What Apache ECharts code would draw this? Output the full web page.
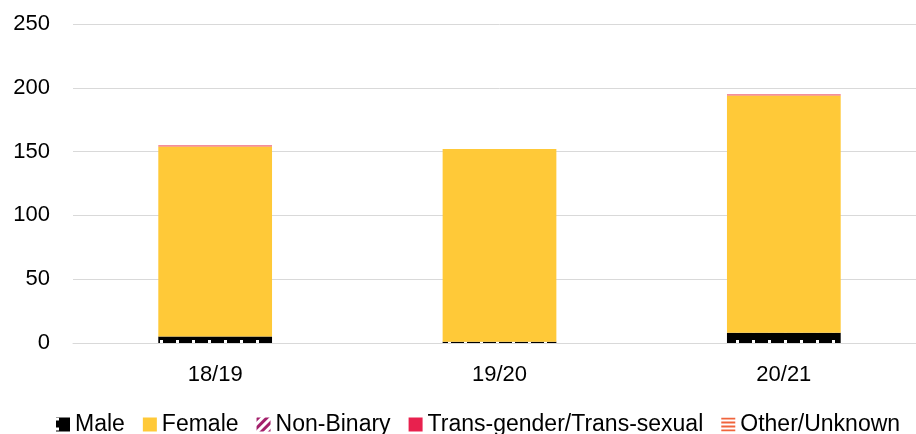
<!DOCTYPE html>
<html>
    <head>
        <title>Gender by year</title>
        <meta charset="UTF-8">
        <script type="text/javascript" src="https://cdn.jsdelivr.net/npm/echarts@6/dist/echarts.min.js"></script>
        <style>
            html, body { margin: 0; padding: 0; background: #fff; overflow: hidden; }
            #container { width: 926px; height: 434px; }
        </style>
    </head>
    <body>
        <div id="container"></div>
        <script type="text/javascript">
            var years = ['18/19', '19/20', '20/21'];
            var male = [5, 1, 8];
            var female = [149, 151, 186];
            var nonBinary = [0, 0, 0];
            var trans = [0, 0, 0];
            var other = [1, 0, 1];
            var yTicks = [0, 50, 100, 150, 200, 250];

            var font = "'Liberation Sans', Arial, sans-serif";
            var myChart = echarts.init(document.getElementById('container'));

            function bar(name, data, color, decal) {
                var s = {
                    name: name,
                    type: 'bar',
                    stack: 'all',
                    barCategoryGap: '60%',
                    data: data,
                    itemStyle: {color: color}
                };
                if (decal) {
                    s.itemStyle.decal = decal;
                }
                return s;
            }

            var option = {
                animation: false,
                textStyle: {fontFamily: font},
                grid: {left: 73, top: 24, right: 0, height: 319},
                legend: {
                    bottom: -7,
                    left: 51,
                    icon: 'rect',
                    itemWidth: 14,
                    itemHeight: 14,
                    itemGap: 18,
                    textStyle: {fontSize: 23, color: '#000', fontFamily: font},
                    data: [
                        'Male',
                        'Female',
                        {name: 'Non-Binary', itemStyle: {color: '#fff', decal: {
                            symbol: 'rect', symbolSize: 1, color: '#A3206B',
                            dashArrayX: [1, 0], dashArrayY: [3, 3], rotation: -Math.PI / 4
                        }}},
                        'Trans-gender/Trans-sexual',
                        {name: 'Other/Unknown', itemStyle: {color: '#fff', decal: {
                            symbol: 'rect', symbolSize: 1, color: '#F0643C',
                            dashArrayX: [1, 0], dashArrayY: [2, 2], rotation: 0
                        }}}
                    ]
                },
                xAxis: {
                    type: 'category',
                    data: years,
                    axisTick: {show: false},
                    axisLine: {lineStyle: {color: '#D9D9D9', width: 1}},
                    axisLabel: {fontSize: 22, color: '#000', margin: 21, fontFamily: font}
                },
                yAxis: {
                    type: 'value',
                    min: yTicks[0],
                    max: yTicks[yTicks.length - 1],
                    interval: 50,
                    axisLine: {show: false},
                    axisTick: {show: false},
                    splitLine: {lineStyle: {color: '#D9D9D9', width: 1}},
                    axisLabel: {fontSize: 22, color: '#000', margin: 23, fontFamily: font}
                },
                series: [
                    bar('Male', male, '#000000', {
                        symbol: 'rect',
                        symbolSize: 1,
                        color: '#ffffff',
                        dashArrayX: [3, 13],
                        dashArrayY: [3, 7]
                    }),
                    bar('Female', female, '#FFC938'),
                    bar('Non-Binary', nonBinary, '#A3206B'),
                    bar('Trans-gender/Trans-sexual', trans, '#E8214E'),
                    bar('Other/Unknown', other, '#F0687A')
                ]
            };
            myChart.setOption(option);
        </script>
    </body>
</html>
